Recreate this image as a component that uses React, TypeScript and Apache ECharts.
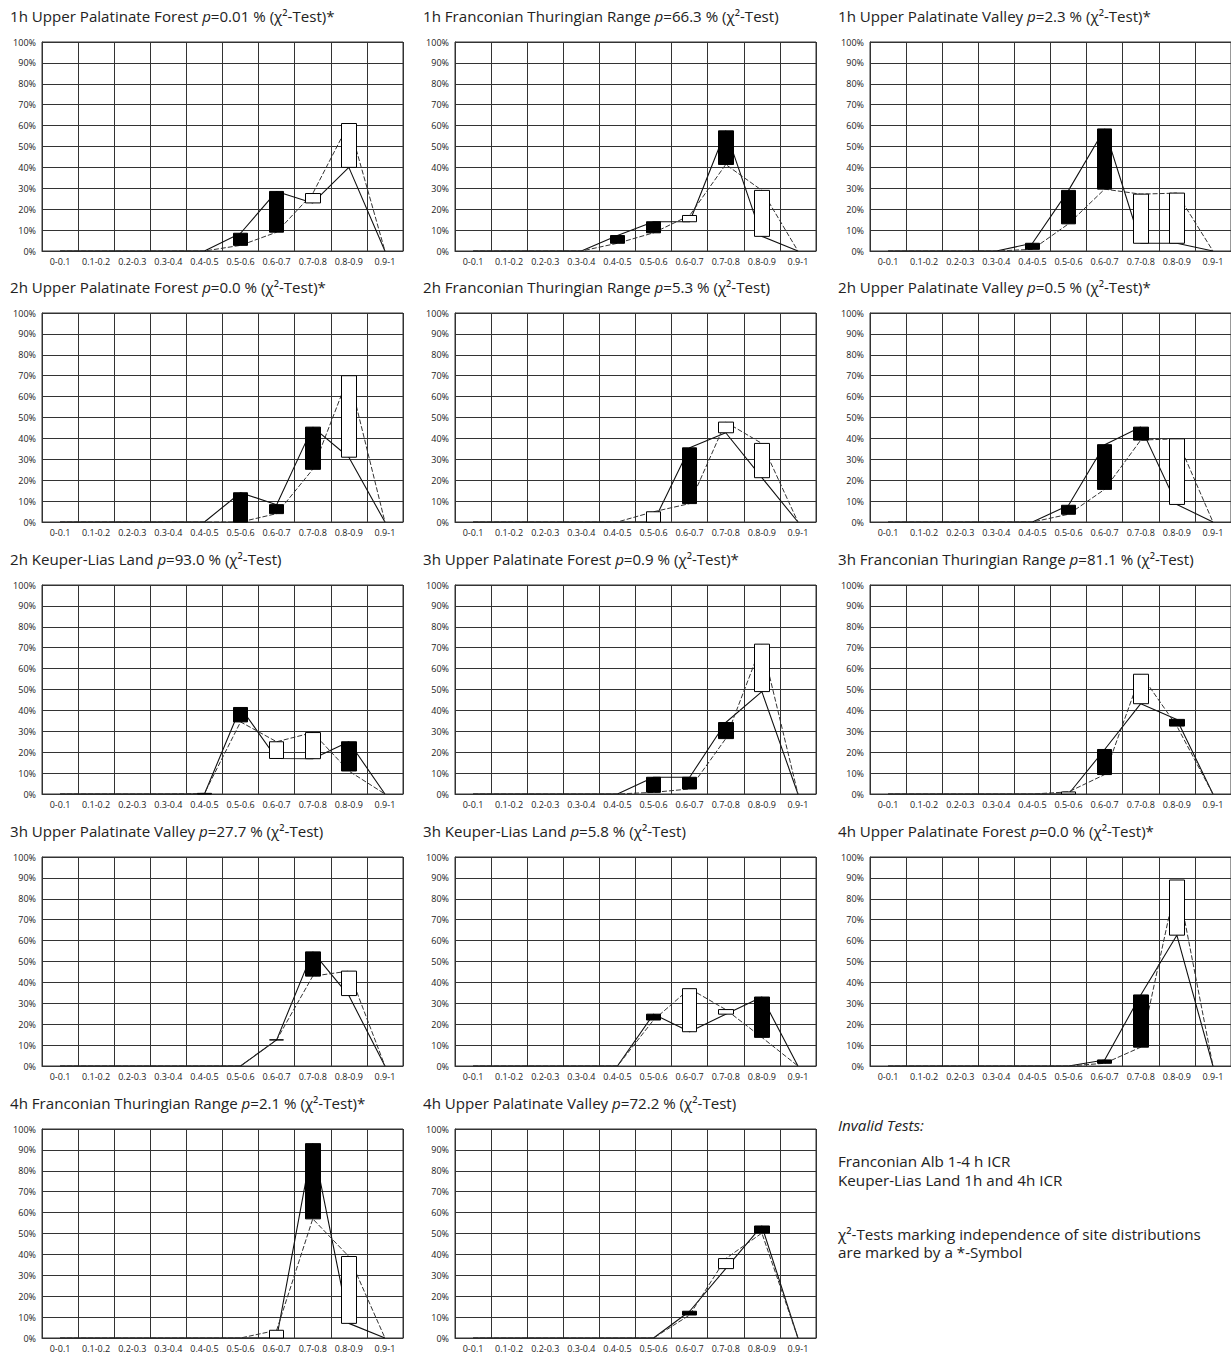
import React, { useEffect, useRef } from "react";
import * as echarts from "echarts";

const categories = ["0-0.1", "0.1-0.2", "0.2-0.3", "0.3-0.4", "0.4-0.5", "0.5-0.6", "0.6-0.7", "0.7-0.8", "0.8-0.9", "0.9-1"];
const yTicks = [0, 10, 20, 30, 40, 50, 60, 70, 80, 90, 100];

// solid line series (A) and dashed line series (B), per panel
const solid1hUPF = [0, 0, 0, 0, 0, 8.5, 28.5, 23, 40, 0];
const dashed1hUPF = [0, 0, 0, 0, 0, 2.7, 9, 27.5, 61, 0];
const solid1hFTR = [0, 0, 0, 0, 7.4, 14, 14, 57.5, 7, 0];
const dashed1hFTR = [0, 0, 0, 0, 3.7, 8.7, 17, 41.4, 29, 0];
const solid1hUPV = [0, 0, 0, 0, 3.7, 29, 58.4, 3.7, 3.7, 0];
const dashed1hUPV = [0, 0, 0, 0, 0.8, 13, 29.6, 27.2, 27.7, 0];
const solid2hUPF = [0, 0, 0, 0, 0, 14, 8.3, 45.4, 31, 0];
const dashed2hUPF = [0, 0, 0, 0, 0, 0, 4, 25.2, 70, 0];
const solid2hFTR = [0, 0, 0, 0, 0, 0, 35.5, 42.7, 21.2, 0];
const dashed2hFTR = [0, 0, 0, 0, 0, 4.9, 8.8, 47.8, 37.6, 0];
const solid2hUPV = [0, 0, 0, 0, 0, 8, 37, 45.4, 8.4, 0];
const dashed2hUPV = [0, 0, 0, 0, 0, 3.7, 15.6, 39.2, 39.8, 0];
const solid2hKLL = [0, 0, 0, 0, 0, 41.4, 17, 16.9, 25, 0];
const dashed2hKLL = [0, 0, 0, 0, 0.3, 34.5, 25, 29.4, 11, 0];
const solid3hUPF = [0, 0, 0, 0, 0, 8, 8, 34.2, 49, 0];
const dashed3hUPF = [0, 0, 0, 0, 0, 0.8, 2.4, 26.5, 71.7, 0];
const solid3hFTR = [0, 0, 0, 0, 0, 0, 21.3, 43.2, 35.7, 0];
const dashed3hFTR = [0, 0, 0, 0, 0, 1, 9.3, 57.3, 32.5, 0];
const solid3hUPV = [0, 0, 0, 0, 0, 0, 12.5, 54.6, 33.7, 0];
const dashed3hUPV = [0, 0, 0, 0, 0, 0, 12.5, 43, 45.4, 0];
const solid3hKLL = [0, 0, 0, 0, 0, 24.8, 16.4, 24.8, 33, 0];
const dashed3hKLL = [0, 0, 0, 0, 0, 22, 37, 27, 13.7, 0];
const solid4hUPF = [0, 0, 0, 0, 0, 0, 2.9, 34, 62.6, 0];
const dashed4hUPF = [0, 0, 0, 0, 0, 0, 1.3, 9, 89, 0];
const solid4hFTR = [0, 0, 0, 0, 0, 0, 0, 93, 7, 0];
const dashed4hFTR = [0, 0, 0, 0, 0, 0, 3.7, 57, 39, 0];
const solid4hUPV = [0, 0, 0, 0, 0, 0, 12.8, 33.2, 53.6, 0];
const dashed4hUPV = [0, 0, 0, 0, 0, 0, 11, 38, 50.2, 0];

const panelNames = [
  "1h Upper Palatinate Forest",
  "1h Franconian Thuringian Range",
  "1h Upper Palatinate Valley",
  "2h Upper Palatinate Forest",
  "2h Franconian Thuringian Range",
  "2h Upper Palatinate Valley",
  "2h Keuper-Lias Land",
  "3h Upper Palatinate Forest",
  "3h Franconian Thuringian Range",
  "3h Upper Palatinate Valley",
  "3h Keuper-Lias Land",
  "4h Upper Palatinate Forest",
  "4h Franconian Thuringian Range",
  "4h Upper Palatinate Valley",
];
const panelP = ["0.01", "66.3", "2.3", "0.0", "5.3", "0.5", "93.0", "0.9", "81.1", "27.7", "5.8", "0.0", "2.1", "72.2"];
const panelStar = [true, false, true, true, false, true, false, true, false, false, false, true, true, false];
const panelSolid = [solid1hUPF, solid1hFTR, solid1hUPV, solid2hUPF, solid2hFTR, solid2hUPV, solid2hKLL, solid3hUPF, solid3hFTR, solid3hUPV, solid3hKLL, solid4hUPF, solid4hFTR, solid4hUPV];
const panelDashed = [dashed1hUPF, dashed1hFTR, dashed1hUPV, dashed2hUPF, dashed2hFTR, dashed2hUPV, dashed2hKLL, dashed3hUPF, dashed3hFTR, dashed3hUPV, dashed3hKLL, dashed4hUPF, dashed4hFTR, dashed4hUPV];

const noteLines = [
  "Franconian Alb 1-4 h ICR",
  "Keuper-Lias Land 1h and 4h ICR",
  "χ²-Tests marking independence of site distributions",
  "are marked by a *-Symbol",
];

const FONT = '"Open Sans", "Noto Sans", sans-serif';
const colLeft = [42, 455, 870];
const colTitleX = [10, 423, 838];
const plotWidth = 361;
const rowTop = [42, 313, 585, 857, 1129];
const plotHeight = 209;
const gridColor = "#333";
const textColor = "#222";
const titleSize = 15.1;
const noteSize = 15.2;

export default function App() {
  const ref = useRef<HTMLDivElement>(null);

  useEffect(() => {
    if (!ref.current) return;
    const chart = echarts.init(ref.current, null, { renderer: "svg" });

    const grids: any[] = [];
    const xAxes: any[] = [];
    const yAxes: any[] = [];
    const series: any[] = [];
    const titles: any[] = [];

    panelNames.forEach((name, i) => {
      const row = Math.floor(i / 3);
      const col = i % 3;
      grids.push({
        left: colLeft[col],
        top: rowTop[row],
        width: plotWidth,
        height: plotHeight,
        show: true,
        borderColor: gridColor,
        borderWidth: 1,
        backgroundColor: "#fff",
      });
      xAxes.push({
        type: "category",
        gridIndex: i,
        data: categories,
        boundaryGap: true,
        axisLine: { show: true, lineStyle: { color: gridColor, width: 1 } },
        axisTick: { show: false },
        axisLabel: { interval: 0, fontSize: 9, color: textColor, margin: 6, fontFamily: FONT },
        splitLine: { show: true, interval: 0, lineStyle: { color: gridColor, width: 1 } },
      });
      yAxes.push({
        type: "value",
        gridIndex: i,
        min: yTicks[0],
        max: yTicks[yTicks.length - 1],
        interval: 10,
        axisLine: { show: true, lineStyle: { color: gridColor, width: 1 } },
        axisTick: { show: false },
        axisLabel: { formatter: "{value}%", fontSize: 9, color: textColor, margin: 6, fontFamily: FONT },
        splitLine: { show: true, lineStyle: { color: gridColor, width: 1 } },
      });
      const a = panelSolid[i];
      const b = panelDashed[i];
      series.push({
        type: "line",
        xAxisIndex: i,
        yAxisIndex: i,
        data: a,
        symbol: "none",
        z: 2,
        lineStyle: { color: "#111", width: 1.1, type: "solid" },
      });
      series.push({
        type: "line",
        xAxisIndex: i,
        yAxisIndex: i,
        data: b,
        symbol: "none",
        z: 2,
        lineStyle: { color: "#333", width: 1, type: [5, 2] },
      });
      series.push({
        type: "candlestick",
        xAxisIndex: i,
        yAxisIndex: i,
        barWidth: 15,
        z: 3,
        data: a.map((v, k) => (v === 0 && b[k] === 0 ? "-" : [v, b[k], Math.min(v, b[k]), Math.max(v, b[k])])),
        itemStyle: {
          color: "#fff",
          color0: "#000",
          borderColor: "#000",
          borderColor0: "#000",
          borderWidth: 1,
        },
      });
      titles.push({
        text: `${name} {i|p}=${panelP[i]} % (χ²-Test)${panelStar[i] ? "*" : ""}`,
        left: colTitleX[col],
        top: rowTop[row] - 36,
        padding: 0,
        textStyle: {
          fontSize: titleSize,
          fontWeight: "normal",
          fontFamily: FONT,
          color: textColor,
          lineHeight: 20,
          rich: {
            i: { fontSize: titleSize, fontStyle: "italic", fontFamily: FONT, color: textColor, lineHeight: 20 },
          },
        },
      });
    });

    const noteY = [1161, 1180, 1234, 1252];
    const graphics: any[] = [
      {
        type: "text",
        x: 838,
        y: 1125,
        style: { text: "Invalid Tests:", font: `italic ${noteSize}px ${FONT}`, fill: textColor, verticalAlign: "middle" },
      },
      ...noteLines.map((t, k) => ({
        type: "text",
        x: 838,
        y: noteY[k],
        style: { text: t, font: `${noteSize}px ${FONT}`, fill: textColor, verticalAlign: "middle" },
      })),
    ];

    chart.setOption({
      animation: false,
      backgroundColor: "#fff",
      title: titles,
      grid: grids,
      xAxis: xAxes,
      yAxis: yAxes,
      series,
      graphic: graphics,
    });

    return () => chart.dispose();
  }, []);

  return (
    <div
      ref={ref}
      style={{ position: "absolute", left: 0, top: 0, width: 1231, height: 1360, background: "#fff" }}
    />
  );
}
